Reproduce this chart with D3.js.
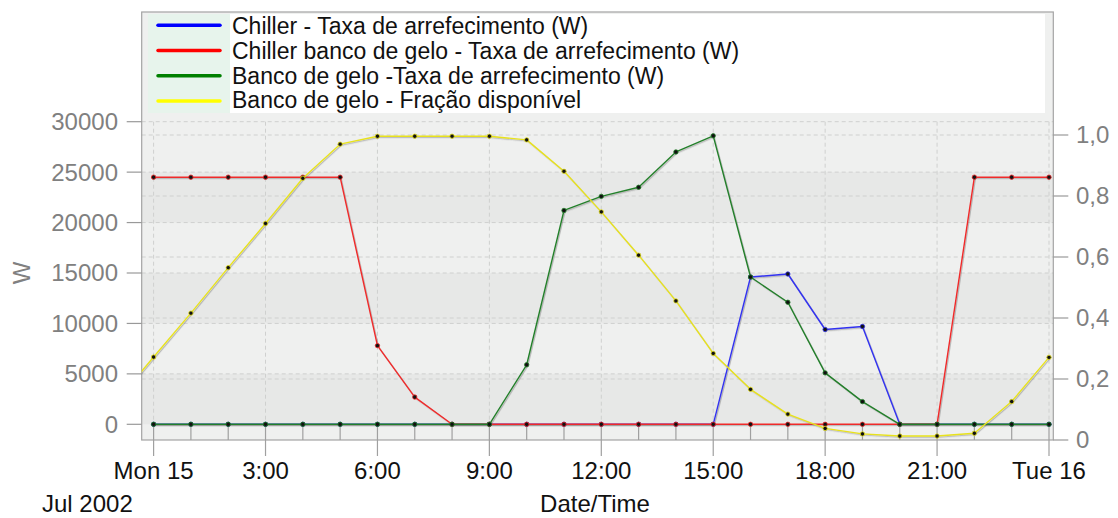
<!DOCTYPE html>
<html>
<head>
<meta charset="utf-8">
<script src="https://cdn.jsdelivr.net/npm/d3@7"></script>
<style>
  html, body { margin: 0; padding: 0; background: #ffffff; }
  svg { display: block; font-family: Arial, "Liberation Sans", sans-serif; }
</style>
</head>
<body>
<svg id="chart" width="1118" height="518"></svg>
<script>
// Hourly simulation results for Mon 15 Jul 2002 (hour 0 .. hour 24)
const hours = d3.range(0, 25);

// Chiller - cooling rate (W)
const chillerRate = [0,0,0,0,0,0,0,0,0,0,0,0,0,0,0,0,14600,14900,9400,9700,0,0,0,0,0];
// Ice-bank chiller - cooling rate (W)
const iceChillerRate = [24500,24500,24500,24500,24500,24500,7800,2700,0,0,0,0,0,0,0,0,0,0,0,0,0,0,24500,24500,24500];
// Ice bank - cooling rate (W)
const iceBankRate = [0,0,0,0,0,0,0,0,0,0,5900,21200,22600,23500,27000,28600,14600,12100,5100,2250,0,0,0,0,0];
// Ice bank - available fraction (right axis); the previous day's 23:00 value leads in
const fracLeadIn = { hour: -1, value: 0.126 };
const iceFraction = [0.272,0.416,0.565,0.710,0.858,0.970,0.996,0.996,0.996,0.996,0.984,0.881,0.748,0.606,0.456,0.284,0.166,0.085,0.038,0.020,0.013,0.013,0.022,0.126,0.271];

const seriesNames = [
  "Chiller - Taxa de arrefecimento (W)",
  "Chiller banco de gelo - Taxa de arrefecimento (W)",
  "Banco de gelo -Taxa de arrefecimento (W)",
  "Banco de gelo - Fração disponível"
];
const leftTicks = [0, 5000, 10000, 15000, 20000, 25000, 30000];
const rightTicks = [0, 0.2, 0.4, 0.6, 0.8, 1.0];
const dateLabel = "Jul 2002";
const xTitle = "Date/Time";
const yTitle = "W";

// ---- layout ----
const frame = { left: 141.7, right: 1053.3, top: 12, bottom: 440 };
const day0 = new Date(2002, 6, 15, 0, 0, 0);
const day1 = new Date(2002, 6, 16, 0, 0, 0);
const hourToDate = h => d3.timeHour.offset(day0, h);

const x = d3.scaleTime().domain([day0, day1]).range([153.6, 1049]);
const yL = d3.scaleLinear().domain([0, 30000]).range([424.3, 121.7]);
const yR = d3.scaleLinear().domain([0, 1]).range([440, 135]);

const svg = d3.select("#chart");
const defs = svg.append("defs");
defs.append("clipPath").attr("id", "plotClip")
  .append("rect")
  .attr("x", frame.left).attr("y", frame.top)
  .attr("width", frame.right - frame.left).attr("height", frame.bottom - frame.top);
const shadow = defs.append("filter").attr("id", "lineShadow")
  .attr("x", "-5%").attr("y", "-5%").attr("width", "110%").attr("height", "110%");
shadow.append("feDropShadow")
  .attr("dx", 1).attr("dy", 1.2).attr("stdDeviation", 0.6)
  .attr("flood-color", "#555").attr("flood-opacity", 0.35);

// ---- plot background with alternating bands ----
const bg = svg.append("g");
bg.append("rect")
  .attr("x", frame.left).attr("y", frame.top)
  .attr("width", frame.right - frame.left).attr("height", frame.bottom - frame.top)
  .attr("fill", "#eff0ef");
const bandPairs = [[20000, 25000], [10000, 15000], [0, 5000]];
bg.selectAll("rect.band").data(bandPairs).join("rect")
  .attr("class", "band")
  .attr("x", frame.left)
  .attr("width", frame.right - frame.left)
  .attr("y", d => yL(d[1]))
  .attr("height", d => yL(d[0]) - yL(d[1]))
  .attr("fill", "#e7e8e7");

// ---- grid ----
const grid = svg.append("g").attr("stroke", "#cfd0cf").attr("stroke-dasharray", "4,3").attr("stroke-width", 1);
grid.selectAll("line.gl").data(leftTicks.slice(1)).join("line")
  .attr("x1", frame.left).attr("x2", frame.right)
  .attr("y1", d => yL(d)).attr("y2", d => yL(d));
grid.selectAll("line.gr").data(rightTicks.slice(1)).join("line")
  .attr("x1", frame.left).attr("x2", frame.right)
  .attr("y1", d => yR(d)).attr("y2", d => yR(d));
const majorTimes = d3.timeHour.every(3).range(day0, d3.timeHour.offset(day1, 1));
grid.selectAll("line.gx").data(majorTimes).join("line")
  .attr("x1", d => x(d)).attr("x2", d => x(d))
  .attr("y1", yL(30000)).attr("y2", yL(0));

// ---- frame ----
svg.append("rect")
  .attr("x", frame.left).attr("y", frame.top)
  .attr("width", frame.right - frame.left).attr("height", frame.bottom - frame.top)
  .attr("fill", "none").attr("stroke", "#a3a3a3").attr("stroke-width", 1.2);

// ---- x ticks ----
const allHours = d3.timeHour.every(1).range(day0, d3.timeHour.offset(day1, 1));
const xt = svg.append("g").attr("stroke", "#a0a0a0").attr("stroke-width", 1.2);
xt.selectAll("line.minor").data(allHours).join("line")
  .attr("x1", d => x(d)).attr("x2", d => x(d))
  .attr("y1", yL(0)).attr("y2", frame.bottom);
xt.selectAll("line.major").data(majorTimes).join("line")
  .attr("x1", d => x(d)).attr("x2", d => x(d))
  .attr("y1", frame.bottom).attr("y2", frame.bottom + 16);

const fmtMidnight = d3.timeFormat("%a %-d");
const fmtHour = d3.timeFormat("%-H:00");
svg.append("g").selectAll("text").data(majorTimes).join("text")
  .attr("x", d => x(d)).attr("y", 479.3)
  .attr("text-anchor", "middle")
  .attr("font-size", 24).attr("fill", "#111")
  .text(d => d.getHours() === 0 ? fmtMidnight(d) : fmtHour(d));

svg.append("text").attr("x", 42).attr("y", 512).attr("font-size", 24).attr("fill", "#111").text(dateLabel);
svg.append("text").attr("x", 595).attr("y", 512).attr("text-anchor", "middle")
  .attr("font-size", 24).attr("fill", "#111").text(xTitle);

// ---- left axis ----
const la = svg.append("g");
la.selectAll("line").data(leftTicks).join("line")
  .attr("x1", frame.left - 15).attr("x2", frame.left)
  .attr("y1", d => yL(d)).attr("y2", d => yL(d))
  .attr("stroke", "#999").attr("stroke-width", 1.2);
la.selectAll("text").data(leftTicks).join("text")
  .attr("x", 118).attr("y", d => yL(d)).attr("dy", "0.35em")
  .attr("text-anchor", "end").attr("font-size", 24).attr("fill", "#808080")
  .text(d => String(d));
svg.append("text")
  .attr("transform", `translate(22, ${yL(15000)}) rotate(-90)`)
  .attr("text-anchor", "middle").attr("dy", "0.35em")
  .attr("font-size", 24).attr("fill", "#808080").text(yTitle);

// ---- right axis ----
const ra = svg.append("g");
ra.selectAll("line").data(rightTicks).join("line")
  .attr("x1", frame.right).attr("x2", frame.right + 15)
  .attr("y1", d => yR(d)).attr("y2", d => yR(d))
  .attr("stroke", "#999").attr("stroke-width", 1.2);
ra.selectAll("text").data(rightTicks).join("text")
  .attr("x", 1076).attr("y", d => yR(d)).attr("dy", "0.35em")
  .attr("font-size", 24).attr("fill", "#808080")
  .text(d => d === 0 ? "0" : d.toFixed(1).replace(".", ","));

// ---- series ----
const series = [
  { name: seriesNames[0], color: "#3232f0", key: "#0000ff", y: yL, pts: hours.map((h, i) => ({ h, v: chillerRate[i] })) },
  { name: seriesNames[1], color: "#f02a2a", key: "#ff0000", y: yL, pts: hours.map((h, i) => ({ h, v: iceChillerRate[i] })) },
  { name: seriesNames[2], color: "#23802a", key: "#008000", y: yL, pts: hours.map((h, i) => ({ h, v: iceBankRate[i] })) },
  { name: seriesNames[3], color: "#e8e21c", key: "#ffff00", y: yR,
    pts: [{ h: fracLeadIn.hour, v: fracLeadIn.value }].concat(hours.map((h, i) => ({ h, v: iceFraction[i] }))) }
];

const plot = svg.append("g").attr("clip-path", "url(#plotClip)");
series.forEach(s => {
  const line = d3.line().x(d => x(hourToDate(d.h))).y(d => s.y(d.v));
  plot.append("path")
    .attr("d", line(s.pts))
    .attr("fill", "none")
    .attr("stroke", s.color)
    .attr("stroke-width", 1.4)
    .attr("stroke-linejoin", "round")
    .attr("filter", "url(#lineShadow)");
  plot.append("g").selectAll("circle").data(s.pts.filter(d => d.h >= 0)).join("circle")
    .attr("cx", d => x(hourToDate(d.h)))
    .attr("cy", d => s.y(d.v))
    .attr("r", 2.2)
    .attr("fill", "#111")
    .attr("stroke", s.color)
    .attr("stroke-width", 0.8);
});

// ---- legend ----
const lg = svg.append("g");
lg.append("rect").attr("x", 148).attr("y", 14).attr("width", 1045 - 148).attr("height", 113 - 14).attr("fill", "#ffffff");
lg.append("rect").attr("x", 148).attr("y", 14).attr("width", 230 - 148).attr("height", 113 - 14).attr("fill", "#e7f4ec");
const rows = lg.selectAll("g.row").data(series).join("g").attr("class", "row");
rows.append("line")
  .attr("x1", 158).attr("x2", 220)
  .attr("y1", (d, i) => 25.3 + i * 25.2).attr("y2", (d, i) => 25.3 + i * 25.2)
  .attr("stroke", d => d.key).attr("stroke-width", 3.5).attr("stroke-linecap", "round");
rows.append("text")
  .attr("x", 232).attr("y", (d, i) => 34.3 + i * 24.7)
  .attr("font-size", 23).attr("fill", "#111")
  .text(d => d.name);
</script>
</body>
</html>
